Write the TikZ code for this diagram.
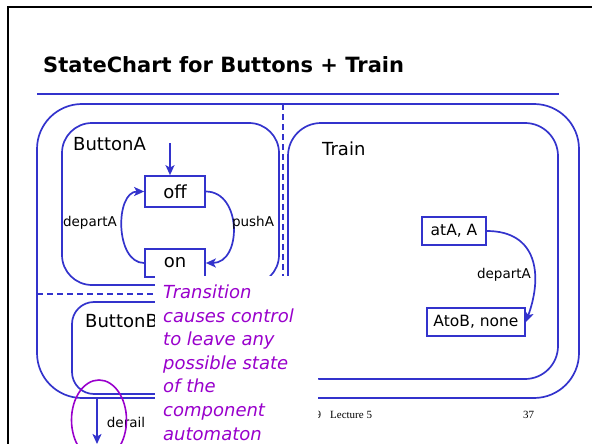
\documentclass[tikz,border=0pt]{standalone}
\usepackage{fontspec}
\setmainfont{DejaVu Sans}
\newfontfamily\footfont{Liberation Serif}
\usetikzlibrary{arrows.meta,shapes.geometric}
\definecolor{sblue}{RGB}{51,51,204}
\definecolor{spurple}{RGB}{153,0,204}
\newcommand\titlefont{\bfseries\fontsize{21}{25}\selectfont}
\newcommand\boxfont{\fontsize{18}{21}\selectfont}
\newcommand\stfont{\fontsize{18}{21}\selectfont}
\newcommand\trfont{\fontsize{15.5}{18}\selectfont}
\newcommand\lblfont{\fontsize{13.5}{16}\selectfont}
\newcommand\notefont{\itshape\fontsize{18}{23.6}\selectfont}
\newcommand\pgfoot{\footfont\fontsize{11}{13}\selectfont}
\begin{document}
\begin{tikzpicture}[x=1pt,y=-1pt,
  cont/.style={draw=sblue,line width=1.7pt,inner sep=0pt},
  stbox/.style={draw=sblue,line width=1.7pt,fill=white,inner sep=0pt,text=black},
  lbl/.style={font=\lblfont,text=black,inner sep=0pt},
  cname/.style={font=\boxfont,text=black,inner sep=0pt,anchor=base west},
  arr/.style={draw=sblue,line width=1.7pt,-{Stealth[length=10pt,width=9pt,inset=2.5pt]}},
  sep/.style={draw=sblue,line width=1.5pt,dash pattern=on 6pt off 4pt}]
\useasboundingbox (0,0) rectangle (592,444);

% page frame and heading
\coordinate (fl) at (8,444);
\coordinate (fc) at (8,7);
\coordinate (fr) at (592,7);
\draw[line width=2.2pt] (fl) -- (fc) -- (fr);
\node[anchor=base west,font=\titlefont,inner sep=0pt] (title) at (43,73) {StateChart for Buttons + Train};
\coordinate (rl) at (37,94);
\coordinate (rr) at (559,94);
\draw[sblue,line width=2.2pt] (rl) -- (rr);

% containers
\node[cont,rounded corners=45pt,minimum width=542pt,minimum height=294pt] (outer) at (308,251) {};
\node[cont,rounded corners=30pt,minimum width=217pt,minimum height=162pt] (btnA) at (170.5,204) {};
\node[cont,rounded corners=33pt,minimum width=270pt,minimum height=256pt] (train) at (423,251) {};
\node[cont,rounded corners=22pt,minimum width=198pt,minimum height=92pt] (btnB) at (171,348) {};

% parallel separators
\coordinate (vs) at (283,104);
\coordinate (ve) at (283,292);
\draw[sep] (vs) -- (ve);
\coordinate (hs) at (37,294);
\coordinate (he) at (283,294);
\draw[sep] (hs) -- (he);

% component names
\node[cname] (nA) at (73,150) {ButtonA};
\node[cname] (nT) at (322,155) {Train};
\node[cname] (nB) at (85,327) {ButtonB};

% ButtonA states
\node[stbox,font=\stfont,minimum width=60pt,minimum height=31pt] (off) at (175,191.5) {off};
\node[stbox,font=\stfont,minimum width=60pt,minimum height=28pt] (on) at (175,263) {on};
\coordinate (init) at (170,143);
\draw[arr] (init) -- (init |- off.north);
\draw[arr] (on.west) to[out=180,in=180,looseness=1.05] (off.west);
\draw[arr] (off.east) to[out=0,in=0,looseness=1.3] (on.east);
\node[lbl] (lda) at (90,223) {departA};
\node[lbl] (lpa) at (253,223) {pushA};

% Train states
\node[stbox,font=\trfont,minimum width=64pt,minimum height=28pt] (atA) at (454,231) {atA, A};
\node[stbox,font=\trfont,minimum width=98pt,minimum height=28pt] (atoB) at (476,322) {AtoB, none};
\draw[arr] (atA.east) to[out=0,in=70,looseness=1.3] (atoB.east);
\node[lbl] (ldt) at (504,275) {departA};

% derail transition leaving the composite state
\coordinate (d0) at (97,398);
\coordinate (d1) at (97,444);
\draw[arr] (d0) -- (d1);
\node[lbl] (ldr) at (126,422) {derail};
\node[draw=spurple,line width=1.6pt,ellipse,minimum width=55pt,minimum height=80pt,inner sep=0pt] (ring) at (99,420) {};

% footer
\node[anchor=base west,font=\pgfoot,inner sep=0pt] (foot) at (315.5,418) {9\hspace{9pt}Lecture 5};
\node[anchor=base west,font=\pgfoot,inner sep=0pt] (pg) at (523,418) {37};

% note
\node[fill=white,minimum width=163pt,minimum height=168pt,inner sep=0pt,anchor=north west] (notebg) at (155,276) {};
\node[anchor=base west,align=left,font=\notefont,text=spurple,inner sep=0pt] (note) at (163,440)
  {Transition\\causes control\\to leave any\\possible state\\of the\\component\\automaton};
\end{tikzpicture}
\end{document}
